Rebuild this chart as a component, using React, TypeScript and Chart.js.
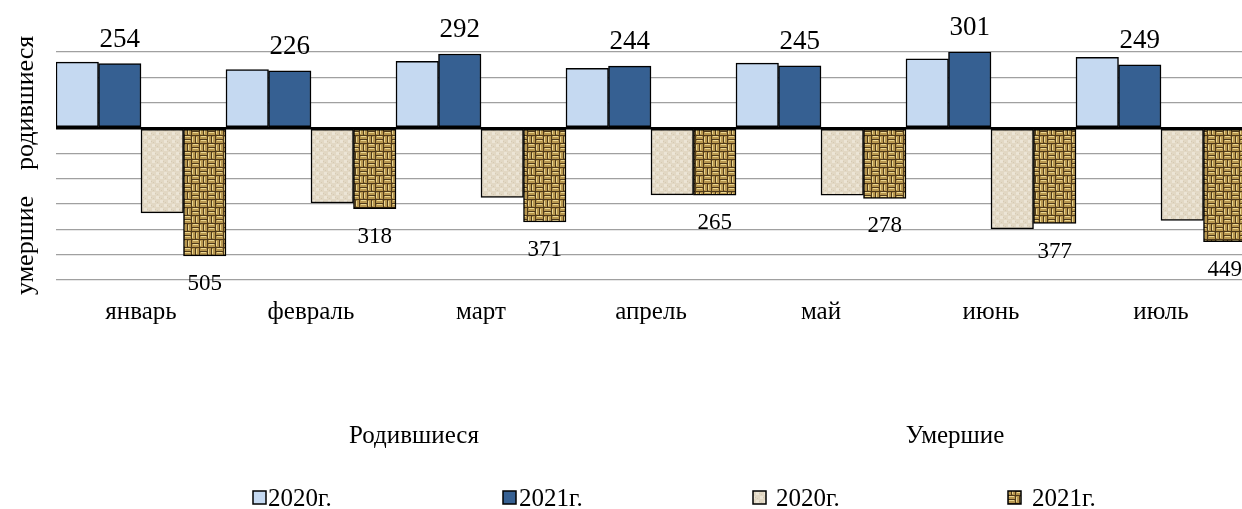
import React, { useEffect, useRef } from "react";
import { Chart, registerables } from "chart.js";

Chart.register(...registerables);

const months = ["январь", "февраль", "март", "апрель", "май", "июнь", "июль"];
const births2020 = [260, 231, 263, 236, 256, 273, 279];
const births2021 = [254, 226, 292, 244, 245, 301, 249];
const deaths2020 = [335, 296, 274, 264, 265, 398, 365];
const deaths2021 = [505, 318, 371, 265, 278, 377, 449];
const yMin = -600;
const yMax = 300;
const yStep = 100;
const yTitleBirths = "родившиеся";
const yTitleDeaths = "умершие";
const groupBirths = "Родившиеся";
const groupDeaths = "Умершие";
const legend2020 = "2020г.";
const legend2021 = "2021г.";

const FONT = '"Liberation Serif", "Times New Roman", serif';

function makeWeave(): CanvasPattern | string {
  const n = 16;
  const c = document.createElement("canvas");
  c.width = n;
  c.height = n;
  const g = c.getContext("2d");
  if (!g) return "#b09355";
  g.fillStyle = "#4f3a1a";
  g.fillRect(0, 0, n, n);
  const h = n / 2;
  for (let bx = 0; bx < 2; bx++) {
    for (let by = 0; by < 2; by++) {
      for (let s = 0; s < 2; s++) {
        const horiz = (bx + by) % 2 === 0;
        const x0 = bx * h;
        const y0 = by * h;
        g.fillStyle = "#b8974f";
        if (horiz) g.fillRect(x0, y0 + s * 4, h - 1, 3);
        else g.fillRect(x0 + s * 4, y0, 3, h - 1);
        g.fillStyle = "#ead58f";
        if (horiz) g.fillRect(x0 + 1, y0 + s * 4, h - 3, 1);
        else g.fillRect(x0 + s * 4, y0 + 1, 1, h - 3);
      }
    }
  }
  return g.createPattern(c, "repeat") || "#b09355";
}

function makeLinen(): CanvasPattern | string {
  const c = document.createElement("canvas");
  c.width = 8;
  c.height = 8;
  const g = c.getContext("2d");
  if (!g) return "#e4dac8";
  g.fillStyle = "#e2d8c4";
  g.fillRect(0, 0, 8, 8);
  g.fillStyle = "#ece5d6";
  g.fillRect(0, 0, 3, 3);
  g.fillRect(4, 4, 3, 3);
  g.fillStyle = "#d6cab3";
  g.fillRect(3, 1, 1, 1);
  g.fillRect(7, 5, 1, 1);
  g.fillRect(1, 6, 1, 1);
  g.fillRect(5, 2, 1, 1);
  return g.createPattern(c, "repeat") || "#e4dac8";
}

export default function App() {
  const canvasRef = useRef<HTMLCanvasElement | null>(null);

  useEffect(() => {
    if (!canvasRef.current) return;
    const weave = makeWeave();
    const linen = makeLinen();
    const fills = ["#c5d9f1", "#366092", linen, weave];

    const labelPlugin = {
      id: "valueLabels",
      afterDatasetsDraw(chart: any) {
        const ctx = chart.ctx;
        ctx.save();
        ctx.fillStyle = "#000";
        ctx.textAlign = "center";
        ctx.textBaseline = "alphabetic";
        const mb = chart.getDatasetMeta(1);
        ctx.font = `27px ${FONT}`;
        mb.data.forEach((bar: any, i: number) => {
          ctx.fillText(String(births2021[i]), bar.x, bar.y - 17);
        });
        const md = chart.getDatasetMeta(3);
        ctx.font = `23px ${FONT}`;
        md.data.forEach((bar: any, i: number) => {
          ctx.fillText(String(deaths2021[i]), bar.x, bar.y + 34);
        });
        ctx.restore();
      },
      afterDraw(chart: any) {
        const ctx = chart.ctx;
        ctx.save();
        ctx.fillStyle = "#000";
        ctx.font = `26px ${FONT}`;
        ctx.textBaseline = "alphabetic";
        ctx.textAlign = "left";
        ctx.save();
        ctx.translate(33, 295);
        ctx.rotate(-Math.PI / 2);
        ctx.fillText(yTitleDeaths, 0, 0);
        ctx.restore();
        ctx.save();
        ctx.translate(33, 170);
        ctx.rotate(-Math.PI / 2);
        ctx.fillText(yTitleBirths, 0, 0);
        ctx.restore();
        ctx.font = `25px ${FONT}`;
        ctx.textAlign = "center";
        ctx.fillText(groupBirths, 414, 443);
        ctx.fillText(groupDeaths, 955, 443);
        const items = [
          { box: 253, text: 268, fill: fills[0], label: legend2020 },
          { box: 503, text: 519, fill: fills[1], label: legend2021 },
          { box: 753, text: 776, fill: fills[2], label: legend2020 },
          { box: 1008, text: 1032, fill: fills[3], label: legend2021 },
        ];
        ctx.textAlign = "left";
        items.forEach((it) => {
          ctx.fillStyle = it.fill as any;
          ctx.fillRect(it.box, 491, 13, 13);
          ctx.strokeStyle = "#000";
          ctx.lineWidth = 1.5;
          ctx.strokeRect(it.box, 491, 13, 13);
          ctx.fillStyle = "#000";
          ctx.fillText(it.label, it.text, 506);
        });
        ctx.restore();
      },
    };

    const chart = new Chart(canvasRef.current, {
      type: "bar",
      data: {
        labels: months,
        datasets: [
          { label: legend2020, data: births2020, backgroundColor: fills[0] as any },
          { label: legend2021, data: births2021, backgroundColor: fills[1] as any },
          { label: legend2020, data: deaths2020.map((v) => -v), backgroundColor: fills[2] as any },
          { label: legend2021, data: deaths2021.map((v) => -v), backgroundColor: fills[3] as any },
        ].map((d) => ({
          ...d,
          borderColor: "#000",
          borderWidth: 1.5,
          borderSkipped: false,
          categoryPercentage: 1,
          barPercentage: 1,
        })),
      },
      options: {
        animation: false,
        responsive: true,
        maintainAspectRatio: false,
        layout: { padding: { left: 56, right: 4, top: 52, bottom: 165 } },
        plugins: { legend: { display: false }, tooltip: { enabled: false } },
        scales: {
          x: {
            grid: { display: false, drawTicks: false },
            border: { display: false },
            ticks: { color: "#000", font: { family: FONT, size: 25 }, padding: 17 },
          },
          y: {
            min: yMin,
            max: yMax,
            ticks: { display: false, stepSize: yStep },
            border: { display: false },
            grid: {
              drawTicks: false,
              color: (c: any) => (c.tick && c.tick.value === 0 ? "#000" : "#a0a0a0"),
              lineWidth: (c: any) => (c.tick && c.tick.value === 0 ? 2.5 : 1.3),
            },
          },
        },
      },
      plugins: [labelPlugin],
    });
    return () => chart.destroy();
  }, []);

  return (
    <div style={{ position: "fixed", left: 0, top: 0, width: 1242, height: 509, overflow: "hidden", background: "#fff" }}>
      <div style={{ position: "relative", width: 1250, height: 509 }}>
        <canvas ref={canvasRef} />
      </div>
    </div>
  );
}
